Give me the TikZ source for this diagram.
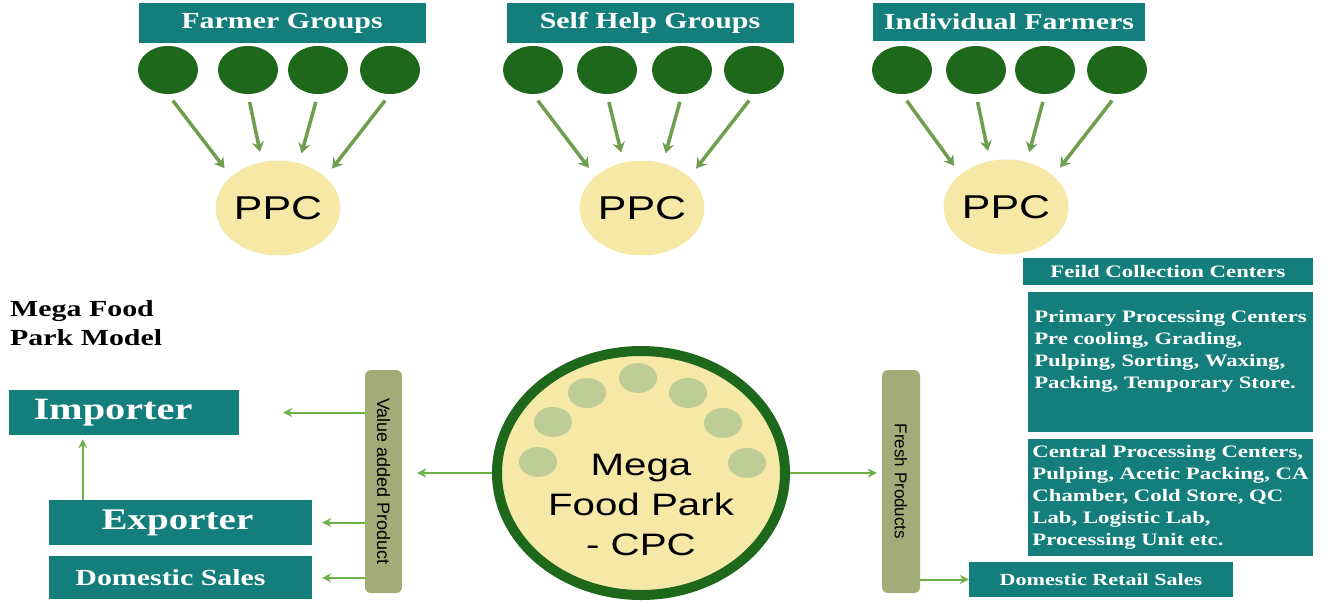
\documentclass[tikz,border=0pt]{standalone}
\usepackage{fontspec}
\usepackage{graphicx}
\setmainfont{Liberation Serif}
\newfontfamily\arialfont{Liberation Sans}
\usetikzlibrary{positioning}
\usetikzlibrary{arrows.meta}
\usetikzlibrary{shapes.geometric}

\definecolor{boxteal}{RGB}{20,126,124}
\definecolor{leafgreen}{RGB}{30,104,28}
\definecolor{arrowgreen}{RGB}{108,176,70}
\definecolor{feedgreen}{RGB}{110,158,78}
\definecolor{cream}{RGB}{246,233,168}
\definecolor{sage}{RGB}{190,204,150}
\definecolor{barolive}{RGB}{163,171,120}

\newcommand{\widetxt}[1]{\scalebox{1.3}[1]{#1}}

\tikzset{
  groupbox/.style={fill=boxteal, text=white, inner sep=0pt, minimum width=287pt, minimum height=40pt, font=\fontsize{23}{28}\selectfont\bfseries},
  member/.style={ellipse, fill=leafgreen, minimum width=60pt, minimum height=48pt, inner sep=0pt},
  ppc/.style={ellipse, fill=cream, minimum width=120pt, minimum height=95pt, inner sep=0pt, font=\arialfont\fontsize{33}{38}\selectfont},
  salebox/.style={fill=boxteal, text=white, inner sep=0pt},
  centerbox/.style={fill=boxteal, text=white, inner sep=0pt, minimum width=285pt, font=\fontsize{17.5}{22}\selectfont\bfseries},
  bar/.style={fill=barolive, rounded corners=6pt, minimum width=37pt, minimum height=223pt, inner sep=0pt, font=\arialfont\fontsize{18}{22}\selectfont},
  unit/.style={ellipse, fill=sage, minimum width=38pt, minimum height=30pt, inner sep=0pt},
  flow/.style={draw=arrowgreen, line width=2pt, -{Stealth[length=9pt,width=9pt]}},
  feed/.style={draw=feedgreen, line width=3.5pt, -{Stealth[length=10pt,width=12pt]}, shorten <=8pt, shorten >=88pt}
}

\begin{document}
\begin{tikzpicture}[x=1pt, y=-1pt]
    \path[use as bounding box, fill=white] (0,0) rectangle (1334,606);
    % suppliers
    \node[groupbox] (fg) at (282,23) {\widetxt{Farmer Groups}};
    \node[groupbox] (shg) at (650,23) {\widetxt{Self Help Groups}};
    \node[groupbox, minimum width=272pt, minimum height=38pt] (ifm) at (1009,22) {\widetxt{Individual Farmers}};
    \node[member] (fg1) at (168,70) {};
    \node[member] (fg2) at (248,70) {};
    \node[member] (fg3) at (318,70) {};
    \node[member] (fg4) at (390,70) {};
    \node[member] (sh1) at (533,70) {};
    \node[member] (sh2) at (607,70) {};
    \node[member] (sh3) at (682,70) {};
    \node[member] (sh4) at (754,70) {};
    \node[member] (if1) at (902,70) {};
    \node[member] (if2) at (976,70) {};
    \node[member] (if3) at (1045,70) {};
    \node[member] (if4) at (1117,70) {};
    \node[ppc] (ppcf) at (278,208) {\widetxt{PPC}};
    \node[ppc] (ppcs) at (642,208) {\widetxt{PPC}};
    \node[ppc] (ppci) at (1006,207) {\widetxt{PPC}};
    \coordinate (ppcf-in) at ([yshift=-30pt]ppcf.center);
    \coordinate (ppcs-in) at ([yshift=-30pt]ppcs.center);
    \coordinate (ppci-in) at ([yshift=-30pt]ppci.center);
    \path[draw, feed] (fg1.south) -- (ppcf-in);
    \path[draw, feed] (fg2.south) -- (ppcf-in);
    \path[draw, feed] (fg3.south) -- (ppcf-in);
    \path[draw, feed] (fg4.south) -- (ppcf-in);
    \path[draw, feed] (sh1.south) -- (ppcs-in);
    \path[draw, feed] (sh2.south) -- (ppcs-in);
    \path[draw, feed] (sh3.south) -- (ppcs-in);
    \path[draw, feed] (sh4.south) -- (ppcs-in);
    \path[draw, feed] (if1.south) -- (ppci-in);
    \path[draw, feed] (if2.south) -- (ppci-in);
    \path[draw, feed] (if3.south) -- (ppci-in);
    \path[draw, feed] (if4.south) -- (ppci-in);
    % park
    \node[anchor=north west, inner sep=0pt, font=\fontsize{23}{29}\selectfont\bfseries] (title) at (10,296) {\widetxt{\begin{tabular}{@{}l@{}}Mega Food\\Park Model\end{tabular}}};
    \node[ellipse, draw=leafgreen, line width=10pt, fill=cream, minimum width=288pt, minimum height=244pt] (cpc) at (641,473) {};
    \foreach \px/\py [count=\k] in {538/462, 553/422, 587/393, 638/378, 688/393, 723/423, 747/463}
        \node[unit] (unit\k) at (\px,\py) {};
    \node[font=\arialfont\fontsize{31}{40}\selectfont] (cpcname) at ([yshift=-34pt]cpc.center) {\widetxt{\begin{tabular}{@{}c@{}}Mega\\Food Park\\- CPC\end{tabular}}};
    \node[bar] (vap) at (383.5,481.5) {\rotatebox{-90}{Value added Product}};
    \node[bar, minimum width=38pt, font=\arialfont\fontsize{17}{21}\selectfont] (fp) at (901,481.5) {\rotatebox{-90}{Fresh Products}};
    % buyers
    \node[salebox, minimum width=230pt, minimum height=45pt, font=\fontsize{31}{36}\selectfont\bfseries] (imp) at (124,412.5) {\widetxt{Importer}\hspace*{22pt}};
    \node[salebox, minimum width=263pt, minimum height=45pt, font=\fontsize{30}{35}\selectfont\bfseries] (exp) at (180.5,522.5) {\widetxt{Exporter}\hspace*{6pt}};
    \node[salebox, minimum width=263pt, minimum height=43pt, font=\fontsize{23}{28}\selectfont\bfseries, below=11pt of exp] (dom) {\widetxt{Domestic Sales}\hspace*{20pt}};
    \node[salebox, minimum width=264pt, minimum height=35pt, font=\fontsize{17}{21}\selectfont\bfseries] (drs) at (1101,579.5) {\widetxt{Domestic Retail Sales}};
    % processing centers
    \node[centerbox, minimum width=290pt, minimum height=27pt] (fcc) at (1168,271.5) {\widetxt{Feild Collection Centers}};
    \node[centerbox, minimum height=140pt, below=7pt of fcc.south east, anchor=north east] (prim) {\widetxt{\begin{tabular}{@{}l@{}}Primary Processing Centers\\Pre cooling, Grading,\\Pulping, Sorting, Waxing,\\Packing, Temporary Store.\\\strut\end{tabular}}};
    \node[centerbox, minimum height=117pt, below=6pt of prim.south east, anchor=north east] (cent) {\widetxt{\begin{tabular}{@{}l@{}}Central Processing Centers,\\Pulping, Acetic Packing, CA\\Chamber, Cold Store, QC\\Lab, Logistic Lab,\\Processing Unit etc.\end{tabular}}};
    % flows
    \path[draw, flow, shorten >=15pt] (cpc.west) -- (vap.east |- cpc.west);
    \path[draw, flow, shorten >=44pt] (vap.west |- imp.east) -- (imp.east);
    \path[draw, flow, shorten >=10pt] (vap.west |- exp.east) -- (exp.east);
    \path[draw, flow, shorten >=10pt] (vap.west |- dom.east) -- (dom.east);
    \coordinate (exp-up) at ([xshift=34pt]exp.north west);
    \path[draw, flow, shorten >=4pt] (exp-up) -- (exp-up |- imp.south);
    \path[draw, flow, shorten >=5pt] (cpc.east) -- (fp.west |- cpc.east);
    \path[draw, flow] (fp.east |- drs.west) -- (drs.west);
\end{tikzpicture}
\end{document}
